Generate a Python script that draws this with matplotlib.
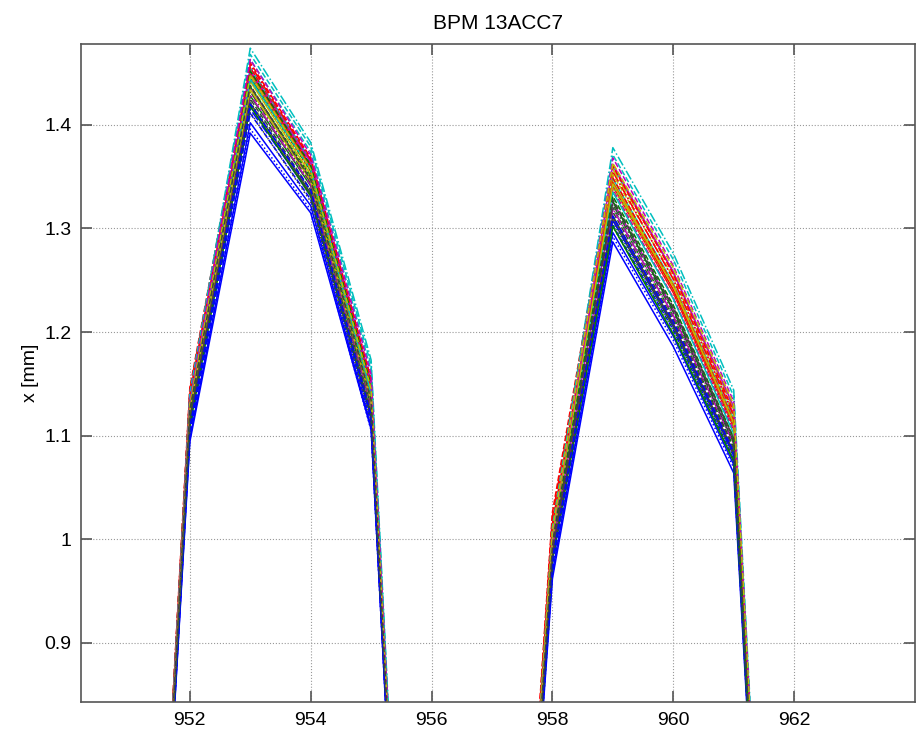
import matplotlib
matplotlib.use("Agg")
import matplotlib.pyplot as plt

plt.rcParams['font.family'] = ['Liberation Sans', 'DejaVu Sans']

# BPM positions (the ones below the plotted window are only seen as steep edges)
positions = [951, 952, 953, 954, 955, 956, 957, 958, 959, 960, 961, 962]

# floor readings outside the two bumps (shared by all shots)
x951 = 0.08
x956 = 0.0
x957 = 0.15
x962 = 0.03

# one value per shot, rows of 7 follow the colour order b, g, r, c, m, y, k
x952 = [1.097, 1.112, 1.138, 1.128, 1.120, 1.124, 1.114,
        1.102, 1.118, 1.142, 1.133, 1.126, 1.127, 1.118,
        1.099, 1.115, 1.136, 1.124, 1.131, 1.121, 1.111,
        1.105, 1.121, 1.144, 1.138, 1.117, 1.129, 1.122,
        1.094, 1.109, 1.140, 1.131, 1.128, 1.125, 1.116,
        1.108, 1.124, 1.146, 1.141, 1.134, 1.130, 1.125]
x953 = [1.402, 1.428, 1.448, 1.455, 1.436, 1.442, 1.418,
        1.411, 1.437, 1.455, 1.463, 1.447, 1.446, 1.425,
        1.396, 1.422, 1.444, 1.449, 1.458, 1.438, 1.412,
        1.415, 1.445, 1.458, 1.474, 1.429, 1.450, 1.432,
        1.392, 1.418, 1.451, 1.444, 1.452, 1.434, 1.421,
        1.420, 1.452, 1.460, 1.468, 1.463, 1.448, 1.438]
x954 = [1.322, 1.341, 1.358, 1.366, 1.348, 1.352, 1.331,
        1.328, 1.350, 1.362, 1.374, 1.356, 1.355, 1.337,
        1.318, 1.336, 1.355, 1.361, 1.368, 1.349, 1.326,
        1.333, 1.356, 1.366, 1.383, 1.342, 1.359, 1.344,
        1.315, 1.332, 1.360, 1.357, 1.364, 1.346, 1.334,
        1.337, 1.361, 1.368, 1.379, 1.371, 1.357, 1.347]
x955 = [1.108, 1.128, 1.141, 1.152, 1.134, 1.139, 1.118,
        1.112, 1.136, 1.147, 1.163, 1.142, 1.143, 1.124,
        1.105, 1.122, 1.138, 1.146, 1.155, 1.136, 1.114,
        1.116, 1.143, 1.151, 1.173, 1.129, 1.146, 1.131,
        1.106, 1.119, 1.145, 1.141, 1.150, 1.133, 1.121,
        1.119, 1.149, 1.154, 1.168, 1.159, 1.145, 1.134]
x958 = [0.968, 0.985, 1.012, 0.998, 0.992, 1.002, 0.981,
        0.974, 0.991, 1.018, 1.004, 0.997, 1.005, 0.986,
        0.965, 0.982, 1.009, 0.994, 1.001, 0.999, 0.978,
        0.977, 0.995, 1.022, 1.009, 0.988, 1.007, 0.990,
        0.962, 0.980, 1.015, 1.001, 0.995, 1.000, 0.983,
        0.980, 0.998, 1.026, 1.012, 1.004, 1.008, 0.993]
x959 = [1.296, 1.312, 1.341, 1.348, 1.326, 1.345, 1.308,
        1.303, 1.320, 1.349, 1.359, 1.338, 1.352, 1.316,
        1.292, 1.306, 1.336, 1.341, 1.355, 1.339, 1.302,
        1.308, 1.326, 1.355, 1.378, 1.319, 1.357, 1.323,
        1.287, 1.302, 1.344, 1.335, 1.362, 1.343, 1.311,
        1.312, 1.331, 1.360, 1.371, 1.368, 1.363, 1.328]
x960 = [1.196, 1.207, 1.238, 1.247, 1.222, 1.246, 1.205,
        1.202, 1.215, 1.245, 1.258, 1.233, 1.253, 1.212,
        1.192, 1.203, 1.233, 1.240, 1.251, 1.241, 1.199,
        1.207, 1.221, 1.251, 1.276, 1.216, 1.258, 1.219,
        1.186, 1.198, 1.241, 1.232, 1.258, 1.244, 1.208,
        1.210, 1.226, 1.256, 1.270, 1.264, 1.262, 1.224]
x961 = [1.072, 1.083, 1.108, 1.116, 1.097, 1.114, 1.081,
        1.077, 1.089, 1.114, 1.127, 1.105, 1.120, 1.087,
        1.069, 1.079, 1.104, 1.109, 1.121, 1.110, 1.076,
        1.081, 1.094, 1.119, 1.144, 1.092, 1.125, 1.093,
        1.064, 1.075, 1.111, 1.102, 1.128, 1.112, 1.084,
        1.084, 1.098, 1.123, 1.138, 1.133, 1.130, 1.097]

# old matlab colour order + line style order
colors = [(0, 0, 1), (0, 0.5, 0), (1, 0, 0), (0, 0.75, 0.75),
          (0.75, 0, 0.75), (0.75, 0.75, 0), (0.25, 0.25, 0.25)]
styles = ['-', '--', ':', '-.']

fig = plt.figure(figsize=(9.21, 7.30), dpi=100)
ax = fig.add_axes([0.088, 0.0384, 0.9055, 0.9013])

for i in range(len(x952)):
    ys = [x951, x952[i], x953[i], x954[i], x955[i], x956, x957,
          x958[i], x959[i], x960[i], x961[i], x962]
    ax.plot(positions, ys, color=colors[i % 7], linestyle=styles[(i // 7) % 4],
            linewidth=1.1)

ax.set_xlim(950.2, 964)
ax.set_ylim(0.843, 1.478)
ax.set_xticks([952, 954, 956, 958, 960, 962])
ax.set_yticks([0.9, 1.0, 1.1, 1.2, 1.3, 1.4])
ax.set_yticklabels(['0.9', '1', '1.1', '1.2', '1.3', '1.4'])

ax.grid(True, linestyle=':', color='#999999', linewidth=0.8)
for s in ax.spines.values():
    s.set_color('#555555')
    s.set_linewidth(1.2)
ax.tick_params(direction='in', length=8, width=1.2, color='#555555',
               top=True, right=True, labelsize=14, pad=7)

ax.set_title('BPM 13ACC7', fontsize=15, pad=11)
ax.set_ylabel('x [mm]', fontsize=14, labelpad=4)

fig.savefig('out.png', dpi=100)
